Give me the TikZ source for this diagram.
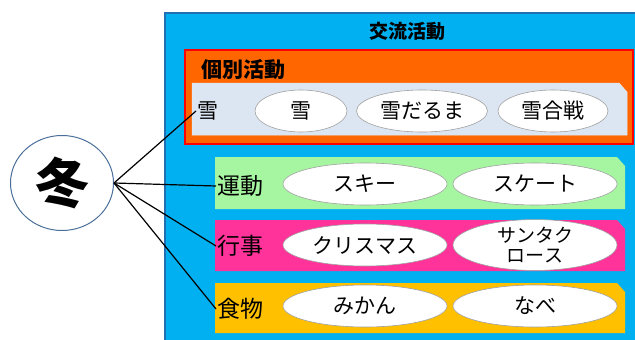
\documentclass[tikz,border=0pt]{standalone}
\usepackage{fontspec}
\setmainfont{Noto Sans CJK JP}
\usetikzlibrary{shapes.geometric}
\definecolor{bgblue}{HTML}{00B0F0}
\definecolor{bgborder}{HTML}{1F6FB5}
\definecolor{indorange}{HTML}{FF6600}
\definecolor{snowfill}{HTML}{DCE6F2}
\definecolor{sportgreen}{HTML}{A6F5A0}
\definecolor{eventpink}{HTML}{FF3399}
\definecolor{foodyellow}{HTML}{FFC000}
\definecolor{ellborder}{HTML}{A0A0A0}
\definecolor{circborder}{HTML}{4A6F9A}
\tikzset{
  ell/.style={ellipse, draw=ellborder, line width=0.6pt, fill=white, minimum height=42pt, inner sep=0pt, font=\fontsize{21}{22}\selectfont, align=center},
  lbl/.style={inner sep=1pt, font=\fontsize{23}{25}\selectfont, anchor=west},
  conn/.style={draw=black, line width=1.2pt},
}
\begin{document}
\begin{tikzpicture}[x=1pt,y=-1pt]
\useasboundingbox (0,0) rectangle (635,340);
% outer blue
\filldraw[fill=bgblue, draw=bgborder, line width=1.5pt] (165,13) rectangle (637,343);
\node[font=\bfseries\fontsize{19}{21}\selectfont] (title) at (407,31) {交流活動};
% individual activity
\filldraw[fill=indorange, draw=red, line width=2pt] (185,50) rectangle (633,144);
\node[font=\bfseries\fontsize{21}{23}\selectfont, anchor=west, inner sep=0pt] (indiv) at (201,70) {個別活動};
% snow box
\filldraw[fill=snowfill, draw=snowfill!80!white, line width=0.5pt] (192,83) -- (619,83) -- (627,92) -- (627,135) -- (192,135) -- cycle;
\node[lbl, font=\fontsize{21}{23}\selectfont] (lsnow) at (196,111) {雪};
\node[ell, minimum width=92pt] (e1) at (301,111) {雪};
\node[ell, minimum width=131pt] (e2) at (422,111) {雪だるま};
\node[ell, minimum width=110pt] (e3) at (553,111) {雪合戦};
% sports
\fill[sportgreen] (215,157) -- (617,157) -- (625,166) -- (625,209) -- (215,209) -- cycle;
\node[lbl] (lsport) at (216,186) {運動};
\node[ell, minimum width=164pt] (s1) at (365,184) {スキー};
\node[ell, minimum width=164pt] (s2) at (535,184) {スケート};
% events
\fill[eventpink] (215,220) -- (617,220) -- (625,229) -- (625,271) -- (215,271) -- cycle;
\node[lbl] (levent) at (216,246) {行事};
\node[ell, minimum width=164pt] (v1) at (365,245) {クリスマス};
\node[ell, minimum width=164pt, font=\fontsize{19}{20}\selectfont] (v2) at (535,245) {サンタク\\ロース};
% food
\fill[foodyellow] (215,283) -- (617,283) -- (625,292) -- (625,333) -- (215,333) -- cycle;
\node[lbl] (lfood) at (216,309) {食物};
\node[ell, minimum width=164pt] (f1) at (365,306) {みかん};
\node[ell, minimum width=164pt] (f2) at (535,306) {なべ};
% winter circle
\node[ellipse, draw=circborder, line width=1pt, fill=white, minimum width=103pt, minimum height=95pt, inner sep=0pt, font=\bfseries\fontsize{54}{56}\selectfont] (winter) at (62,183) {冬};
% connectors
\draw[conn] (winter.east) -- (lsnow.west);
\draw[conn] (winter.east) -- (lsport.west);
\draw[conn] (winter.east) -- (levent.west);
\draw[conn] (winter.east) -- (lfood.west);
\end{tikzpicture}
\end{document}
